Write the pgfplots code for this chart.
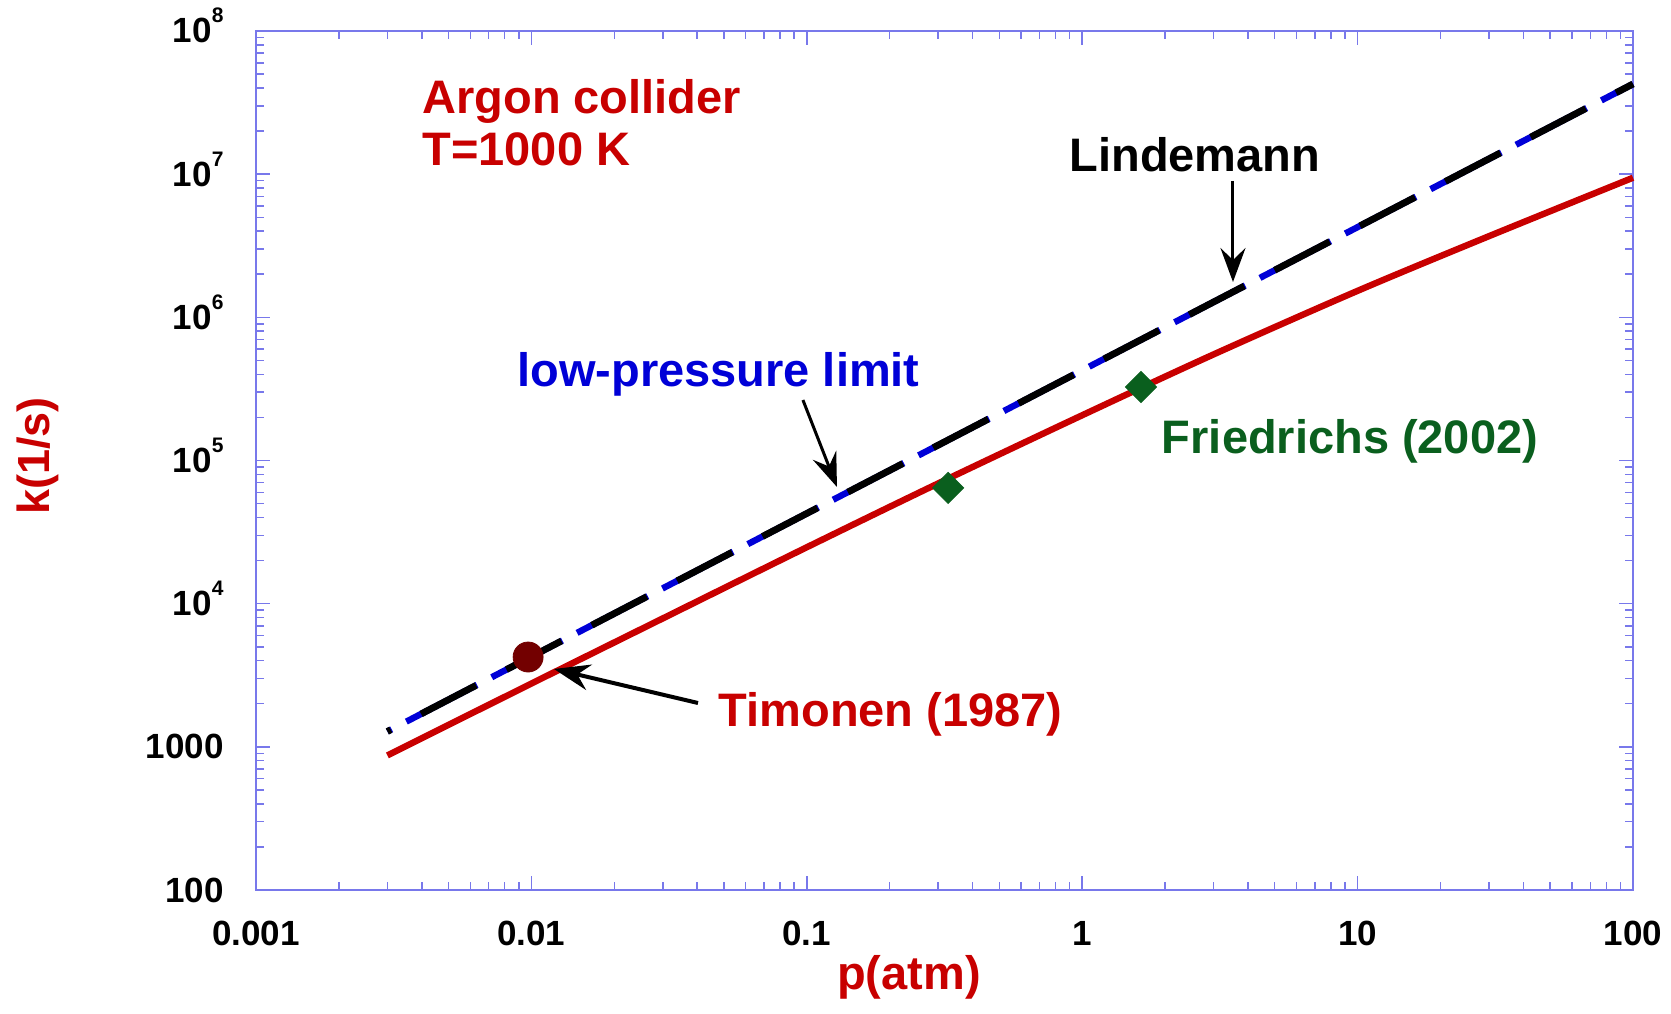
\documentclass[border=0pt]{standalone}
\usepackage{fontspec}
\setmainfont{Liberation Sans}
\usepackage{pgfplots}
\pgfplotsset{compat=1.18}
\usetikzlibrary{arrows.meta}
\definecolor{axblue}{RGB}{120,120,235}
\definecolor{myred}{RGB}{200,0,0}
\definecolor{myblue}{RGB}{0,0,215}
\definecolor{mygreen}{RGB}{10,95,30}
\definecolor{darkred}{RGB}{115,0,0}
\newcommand{\ticklabfont}{\fontsize{17.5}{20}\selectfont\bfseries}
\newcommand{\annfont}{\fontsize{23.5}{26}\selectfont\bfseries}
\newcommand{\ex}[1]{10\raisebox{10pt}{\fontsize{10.5}{12}\selectfont #1}}
\begin{document}
\begin{tikzpicture}
\begin{axis}[
  xmode=log, ymode=log,
  scale only axis, width=688.5pt, height=429.5pt,
  xmin=0.001, xmax=100, ymin=100, ymax=1e8,
  clip=false,
  axis line style={axblue, line width=0.75pt},
  every tick/.style={axblue, line width=0.75pt},
  tick align=inside,
  major tick length=7pt, minor tick length=4pt,
  xtick={0.001,0.01,0.1,1,10,100},
  xticklabels={0.001,0.01,0.1,1,10,100},
  minor xtick={0.002,0.003,0.004,0.005,0.006,0.007,0.008,0.009,
    0.02,0.03,0.04,0.05,0.06,0.07,0.08,0.09,
    0.2,0.3,0.4,0.5,0.6,0.7,0.8,0.9,
    2,3,4,5,6,7,8,9,20,30,40,50,60,70,80,90},
  ytick={100,1000,1e4,1e5,1e6,1e7,1e8},
  yticklabels={100,1000,\ex{4},\ex{5},\ex{6},\ex{7},\ex{8}},
  minor ytick={200,300,400,500,600,700,800,900,
    2000,3000,4000,5000,6000,7000,8000,9000,
    2e4,3e4,4e4,5e4,6e4,7e4,8e4,9e4,
    2e5,3e5,4e5,5e5,6e5,7e5,8e5,9e5,
    2e6,3e6,4e6,5e6,6e6,7e6,8e6,9e6,
    2e7,3e7,4e7,5e7,6e7,7e7,8e7,9e7},
  xticklabel style={font=\ticklabfont, text=black, anchor=base, inner sep=0pt, yshift=-27.5pt},
  yticklabel style={font=\ticklabfont, text=black, anchor=base east, inner sep=0pt, xshift=-16pt, yshift=-6pt},
]
\coordinate (sw) at (rel axis cs:0,0);
\coordinate (ne) at (rel axis cs:1,1);

% low-pressure limit (blue) and Lindemann (black), dashed
\addplot[myblue, line width=3.2pt, dash pattern=on 39.8pt off 8.3pt, dash phase=37.4pt]
  coordinates {(0.003,1280) (100,4.266e7)};
\addplot[black, line width=3.4pt, dash pattern=on 31pt off 17.1pt, dash phase=29.1pt]
  coordinates {(0.003,1280) (100,4.266e7)};

% computed falloff curve
\addplot[myred, line width=3.2pt, smooth]
  coordinates {(0.003,871) (0.01,2767) (0.03,7889) (0.1,24774) (0.3,69183)
               (1,207014) (3,550808) (10,1531087) (30,3689776) (100,9440609)};

% Timonen (1987)
\addplot[only marks, mark=*, mark size=7.5pt, darkred, mark options={fill=darkred, draw=darkred}]
  coordinates {(0.00973,4240)};
% Friedrichs (2002)
\addplot[only marks, mark=square*, mark size=5.5pt, mygreen, mark options={rotate=45, fill=mygreen, draw=mygreen}]
  coordinates {(0.326,6.43e4) (1.635,3.26e5)};

% annotations
\node[font=\annfont, text=myred, anchor=base west, inner sep=0pt] at (rel axis cs:0.1206,0.9045) {Argon collider};
\node[font=\annfont, text=myred, anchor=base west, inner sep=0pt] at (rel axis cs:0.1206,0.8440) {T=1000 K};
\node[font=\annfont, text=black, anchor=base, inner sep=0pt] at (rel axis cs:0.6819,0.8359) {Lindemann};
\node[font=\annfont, text=myblue, anchor=base, inner sep=0pt] at (rel axis cs:0.3359,0.5856) {low-pressure limit};
\node[font=\annfont, text=mygreen, anchor=base, inner sep=0pt] at (rel axis cs:0.7945,0.5076) {Friedrichs (2002)};
\node[font=\annfont, text=myred, anchor=base, inner sep=0pt] at (rel axis cs:0.4608,0.1898) {Timonen (1987)};

\draw[black, line width=1.5pt, -{Stealth[length=17pt,width=12.5pt,inset=6pt]}]
  (rel axis cs:0.7095,0.8254) -- (rel axis cs:0.7095,0.7078);
\draw[black, line width=1.5pt, -{Stealth[length=17pt,width=12.5pt,inset=6pt]}]
  (rel axis cs:0.3972,0.5704) -- (rel axis cs:0.4219,0.4692);
\draw[black, line width=2pt, -{Stealth[length=18pt,width=13pt,inset=6pt]}]
  (rel axis cs:0.3210,0.2177) -- (rel axis cs:0.2164,0.2573);

% axis labels
\node[rotate=90, anchor=base, font=\fontsize{22.5}{25}\selectfont\bfseries, text=myred, inner sep=0pt]
  at (rel axis cs:-0.1496,0.5052) {k(1/s)};
\node[anchor=base, font=\annfont, text=myred, inner sep=0pt]
  at (rel axis cs:0.4742,-0.1164) {p(atm)};
\end{axis}
\path (sw) ++(-128pt,-61.5pt) coordinate (sw2);
\path (ne) ++(19pt,15.5pt) coordinate (ne2);
\pgfresetboundingbox
\path[use as bounding box] (sw2) rectangle (ne2);
\end{tikzpicture}
\end{document}
